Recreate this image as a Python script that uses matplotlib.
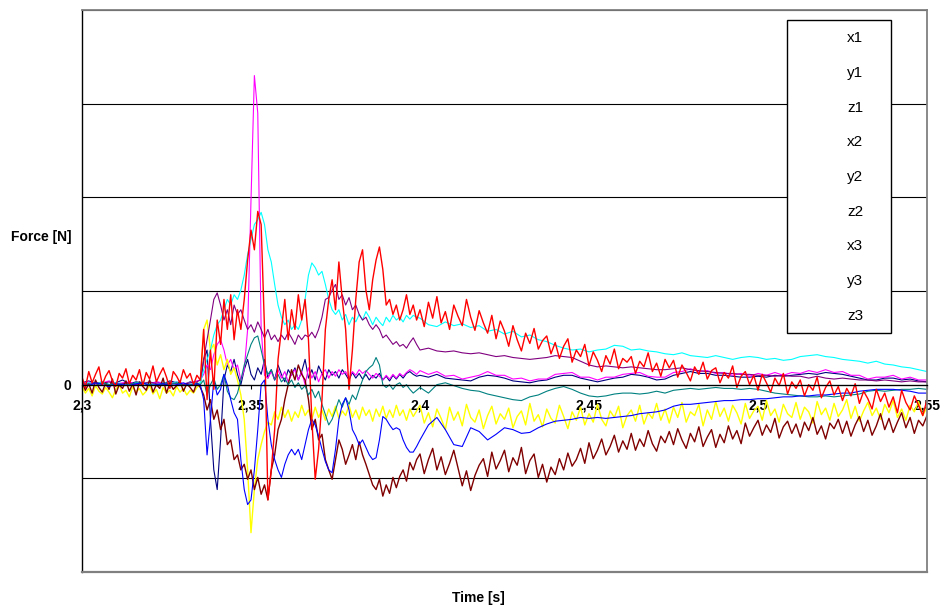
import numpy as np
import matplotlib
matplotlib.use("Agg")
import matplotlib.pyplot as plt
from matplotlib.patches import Rectangle

plt.rcParams['font.family'] = ['Liberation Sans', 'DejaVu Sans']

# time bases: smooth channels are sampled coarser outside the impact,
# the noisy channels (z1, z2, z3) are kept at a fine step everywhere
t_smooth = np.concatenate([2.300 + np.arange(18) * 0.002,
                           2.335 + np.arange(65) * 0.001,
                           2.400 + np.arange(61) * 0.0025])
t_noisy = np.concatenate([2.300 + np.arange(100) * 0.001,
                          2.400 + np.arange(121) * 0.00125])

series_names = ['x1', 'y1', 'z1', 'x2', 'y2', 'z2', 'x3', 'y3', 'z3']
series_colors = ['#000080', '#FF00FF', '#FFFF00', '#00FFFF', '#800080',
                 '#800000', '#008080', '#0000FF', '#FF0000']

x1 = [2, 4, 1, 3, 0, 2, 5, 1, 3, 2, 0, 3, 1, 4, 2, 0, 3, 1,
      0, 27, 37, -37, -91, -112, -59, 5, 21, 14, 27, 11, 0, 16, 27, 11, 5, 18, 11, 27,
      7, 16, 5, 21, 11, 3, 16, 10, 18, 5, 14, 27, 7, 16, 5, 20, 12, 5, 16, 10,
      14, 7, 16, 11, 5, 13, 7, 12, 6, 11, 5, 10, 7, 12, 5, 9, 4, 10, 6, 11,
      7, 12, 14, 11, 9,
      10, 8, 11, 7, 6, 5, 4, 8, 10, 9, 7, 4, 3, 2, 4, 5, 8, 10, 10, 7,
      5, 3, 5, 7, 8, 11, 10, 8, 5, 6, 10, 12, 14, 12, 12, 10, 10, 9, 8, 8,
      9, 8, 10, 9, 10, 11, 12, 11, 13, 12, 11, 9, 7, 5, 5, 7, 7, 5, 6, 4, 3]

y1 = [1, 3, 0, 2, 4, 1, 2, 3, 0, 2, 1, 3, 2, 0, 3, 1, 2, 4,
      5, 11, 21, 16, 32, 43, 48, 37, 21, 27, 16, 21, 5, 16, 59, 197, 330, 290, 60, 10,
      7, 14, 5, 16, 7, 14, 3, 11, 16, 5, 14, 0, 18, 7, 14, 3, 12, 16, 7, 14,
      9, 16, 11, 14, 7, 14, 10, 16, 12, 15, 11, 7, 12, 9, 5, 10, 6, 11, 7, 12,
      9, 13, 16, 14, 11,
      15, 11, 14, 9, 10, 6, 8, 10, 14, 10, 10, 6, 7, 4, 6, 6, 11, 12, 13, 8,
      8, 5, 8, 8, 11, 12, 13, 9, 8, 8, 13, 14, 17, 14, 15, 12, 13, 10, 12, 9,
      12, 10, 13, 10, 13, 12, 15, 13, 16, 13, 14, 10, 10, 6, 8, 8, 10, 6, 8, 5, 5]

z1 = [-2, -9, -4, -12, -1, -7, -10, -3, -8, -14, -5, 0, -9, -6, -13, -2, -8, -4,
      -11, -7, -1, -10, -5, -15, -3, -9, -6, -12, -2, -8, -4, -11, -6, -9, -3,
      0, 59, 69, 37, 43, 21, 32, 16, 27, 11, 18, 5, -11, -37, -91, -158, -112, -80, -64, -50,
      -40, -43, -29, -37, -24, -35, -27, -39, -29, -35, -22, -33, -27, -37, -24, -35, -27, -38, -26, -34,
      -23, -36, -28, -33, -22, -35, -27, -37, -24, -33, -27, -39, -26, -34, -23, -36, -27, -35, -22, -33,
      -27, -38, -26, -34, -28,
      -22, -41, -30, -45, -26, -36, -48, -24, -38, -29, -44, -21, -35, -40, -27, -47, -33, -23, -42, -31,
      -37, -25, -46, -34, -28, -43, -20, -39, -32, -45, -26, -36, -41, -22, -34, -47, -29, -38, -24, -43,
      -31, -40, -21, -37, -44, -28, -35, -23, -46, -33, -27, -39, -22, -42, -30, -36, -20, -38, -26, -41,
      -24, -35, -19, -40, -29, -33, -21, -44, -27, -37, -18, -34, -25, -39, -22, -30, -42, -20, -36, -28,
      -23, -38, -17, -33, -26, -40, -21, -31, -35, -19, -37, -24, -29, -41, -18, -32, -25, -38, -20, -34,
      -27, -16, -36, -23, -39, -28, -19, -33, -25, -37, -21, -30, -17, -35, -26, -38, -22, -29, -18, -33,
      -24]

x2 = [0, 2, 1, 3, 0, 2, 1, 0, 2, 3, 1, 0, 2, 1, 3, 0, 2, 1,
      2, 16, 27, 37, 53, 64, 69, 80, 91, 85, 96, 91, 101, 117, 139, 155, 171, 176, 184, 171,
      144, 131, 107, 85, 72, 64, 69, 59, 64, 59, 69, 91, 117, 130, 125, 117, 121, 107, 91, 80,
      75, 80, 69, 75, 64, 72, 67, 75, 69, 78, 72, 64, 72, 67, 63, 72, 67, 74, 69, 72,
      67, 74, 70, 74, 72,
      71, 64, 62, 67, 63, 65, 61, 63, 57, 59, 54, 57, 51, 53, 48, 46, 42, 39, 37, 38,
      35, 37, 38, 42, 41, 37, 38, 36, 35, 33, 32, 34, 31, 30, 29, 31, 29, 27, 29, 30,
      29, 27, 28, 26, 27, 30, 31, 32, 30, 29, 27, 26, 25, 23, 25, 22, 21, 19, 18, 16, 14]

y2 = [1, 0, 2, 1, 3, 0, 1, 2, 0, 1, 3, 1, 0, 2, 1, 0, 2, 3,
      5, 27, 48, 69, 91, 98, 85, 69, 80, 64, 85, 75, 80, 69, 59, 64, 56, 67, 59, 50,
      59, 48, 53, 46, 53, 48, 56, 50, 43, 53, 48, 53, 51, 56, 50, 59, 72, 91, 93, 101,
      107, 91, 96, 85, 93, 80, 85, 75, 69, 72, 64, 59, 64, 59, 50, 53, 48, 43, 46, 41,
      43, 39, 45, 50, 43,
      37, 39, 36, 35, 36, 34, 33, 34, 32, 30, 31, 29, 28, 27, 28, 29, 31, 30, 29, 25,
      21, 19, 20, 19, 18, 19, 18, 17, 16, 16, 17, 18, 16, 15, 14, 13, 12, 12, 11, 11,
      10, 10, 9, 10, 9, 9, 7, 9, 7, 6, 7, 6, 5, 5, 4, 5, 4, 3, 4, 3, 3]

z2 = [3, -6, 1, -9, 5, -3, -8, 2, -5, 6, -10, 0, -4, 4, -7, 1, -11, 3,
      -2, -6, 5, -8, 0, -4, 7, -9, 2, -5, -1, 4, -7, 1, -3, -8, 2,
      -3, -11, -27, -16, -37, -27, -48, -37, -64, -59, -80, -75, -91, -85, -101, -91, -112, -99, -117, -107,
      -123, -91, -75, -48, -37, -16, 0, 16, 5, 21, 11, 5, -16, -48, -37, -59, -53, -80, -91, -101,
      -80, -59, -69, -85, -75, -64, -80, -61, -75, -85, -96, -107, -112, -101, -119, -107, -116, -99, -110, -98,
      -91, -103, -83, -91, -80,
      -74, -95, -80, -68, -91, -77, -96, -84, -70, -89, -108, -92, -113, -97, -86, -79, -98, -72, -90, -81,
      -70, -93, -78, -86, -67, -95, -81, -74, -99, -85, -104, -88, -96, -79, -91, -73, -87, -80, -68, -84,
      -62, -79, -70, -58, -75, -66, -54, -72, -60, -69, -52, -70, -58, -66, -49, -63, -71, -55, -62, -50,
      -64, -47, -59, -68, -52, -61, -45, -66, -56, -48, -67, -53, -62, -44, -58, -49, -63, -41, -55, -46,
      -38, -54, -43, -51, -36, -57, -45, -39, -52, -42, -56, -40, -49, -35, -53, -44, -58, -41, -47, -37,
      -52, -39, -55, -43, -34, -50, -38, -54, -44, -31, -48, -36, -51, -40, -30, -46, -35, -52, -38, -44,
      -33]

x3 = [0, 1, -1, 2, 0, 1, -1, 0, 2, 1, 0, -1, 1, 0, 2, -1, 0, 1,
      0, 5, -11, 0, 7, -5, 0, 11, -7, -14, -16, -9, 5, 21, 32, 43, 50, 52, 37, 21,
      11, 16, 5, 11, 3, 7, 0, 5, -3, 2, -5, -1, -11, -5, -14, -7, -21, -32, -43, -37,
      -27, -16, -24, -14, -21, -11, -16, -5, 5, 14, 18, 21, 29, 21, 0, -3, 0, -5, 0, 2,
      -3, 0, -5, -9, -6,
      -3, -9, 0, 2, -1, -4, -6, -7, -10, -12, -14, -16, -17, -13, -11, -7, -4, -2, -5, -9,
      -12, -13, -12, -10, -9, -9, -10, -9, -7, -9, -6, -5, -4, -5, -4, -3, -4, -4, -5, -4,
      -5, -7, -9, -10, -11, -12, -13, -13, -12, -13, -12, -11, -10, -7, -6, -7, -6, -5, -5, -4, -5]

y3 = [1, -1, 2, 0, -2, 1, 0, -1, 1, 2, -1, 0, 1, -1, 0, 2, -1, 1,
      0, -16, -75, -37, 5, -11, -5, 11, 0, -16, -30, -37, -80, -112, -128, -123, -91, -48, 0, 5,
      -37, -64, -80, -91, -99, -85, -75, -69, -75, -69, -80, -64, -48, -37, -43, -55, -69, -82, -91, -94,
      -69, -37, -21, -14, -27, -48, -55, -64, -59, -67, -75, -80, -78, -59, -34, -37, -43, -48, -46, -48,
      -59, -67, -72, -72, -66,
      -59, -43, -35, -48, -64, -66, -46, -50, -59, -53, -46, -48, -52, -51, -46, -42, -39, -38, -37, -35,
      -36, -35, -36, -35, -34, -33, -31, -30, -29, -27, -23, -21, -21, -20, -19, -18, -17, -17, -16, -16,
      -15, -15, -14, -13, -13, -12, -12, -11, -11, -10, -9, -9, -7, -6, -5, -5, -5, -6, -7, -9, -9]

z3 = [8, -3, 14, 2, 11, 19, 0, 9, 15, 4, -2, 12, 7, 17, 1, 10, 5, 16,
      -1, 13, 6, 20, 3, 11, 18, 8, -4, 14, 9, 2, 16, 7, 12, 0, 10,
      5, 59, -16, 37, -5, 69, 43, 91, 59, 96, 48, 80, 59, 91, 133, 165, 144, 185, 171, 59,
      -123, -91, -48, 27, 59, 91, 48, 80, 59, 96, 69, 91, 48, -37, -101, -69, -16, 59, 91, 112,
      80, 131, 91, 59, -5, 37, 91, 131, 144, 101, 80, 112, 133, 147, 123, 85, 91, 75, 85, 69,
      80, 96, 75, 85, 69,
      80, 62, 88, 71, 94, 66, 78, 59, 85, 73, 63, 91, 72, 58, 79, 66, 55, 74, 49, 68,
      57, 41, 63, 48, 36, 55, 44, 60, 38, 47, 52, 33, 45, 28, 41, 49, 24, 37, 30, 43,
      20, 35, 26, 14, 31, 22, 38, 17, 28, 24, 30, 12, 25, 19, 34, 14, 23, 9, 27, 18,
      26, 8, 21, 13, 4, 19, 11, 24, 6, 15, 18, 2, 13, 7, 20, -3, 9, 14, 0, 10,
      -6, 11, 2, -8, 7, -1, 12, -10, 3, -4, 5, -12, 0, -6, 8, -14, -3, 4, -11, -2,
      -17, -4, -12, 1, -20, -7, -15, -26, -5, -18, -9, -24, -13, -30, -6, -19, -27, -12, -22, -33,
      -16]

x_ticks = [2.3, 2.35, 2.4, 2.45, 2.5, 2.55]
x_tick_labels = ['2,3', '2,35', '2,4', '2,45', '2,5', '2,55']
y_ticks = [-200, -100, 0, 100, 200, 300, 400]
y_tick_labels = ['', '', '0', '', '', '', '']

W, H = 944, 609
fig = plt.figure(figsize=(W / 100, H / 100), dpi=100)
ax = fig.add_axes([82 / W, 1 - 572 / H, (927 - 82) / W, (572 - 10) / H])

all_values = [x1, y1, z1, x2, y2, z2, x3, y3, z3]
for name, color, values in zip(series_names, series_colors, all_values):
    noisy = len(values) == len(t_noisy)
    tt = t_noisy if noisy else t_smooth
    ax.plot(tt, values, color=color, lw=1.0 if noisy else 0.8, label=name)

# spine moved first: set_position resets the tick labels
ax.spines['bottom'].set_position(('data', 0))
ax.spines['bottom'].set_color('black')
ax.spines['bottom'].set_linewidth(0.9)
ax.spines['left'].set_color('black')
ax.spines['left'].set_linewidth(1.0)
for side in ['top', 'right']:
    ax.spines[side].set_color('#808080')
    ax.spines[side].set_linewidth(1.3)
ax.axhline(-200, color='#808080', lw=1.6, clip_on=False, zorder=3)

ax.set_xlim(2.3, 2.55)
ax.set_ylim(-200, 400)
ax.set_yticks(y_ticks)
ax.set_yticklabels(y_tick_labels, fontweight='bold', fontsize=10)
ax.tick_params(axis='y', length=0, pad=8)
ax.yaxis.grid(True, color='black', lw=0.8)
ax.set_axisbelow(True)

ax.set_xticks(x_ticks)
ax.set_xticklabels(x_tick_labels, fontweight='bold', fontsize=10)
ax.tick_params(axis='x', direction='out', length=3, width=0.8, pad=7)

fig.text(41 / W, 1 - 237 / H, 'Force [N]', ha='center', va='center',
         fontweight='bold', fontsize=10)
fig.text(478 / W, 1 - 598 / H, 'Time [s]', ha='center', va='center',
         fontweight='bold', fontsize=10)

# legend box with labels only, like the original
fig.add_artist(Rectangle((787 / W, 1 - 333 / H), 104 / W, 313 / H,
                         transform=fig.transFigure, facecolor='white',
                         edgecolor='black', lw=1, zorder=5))
for i, name in enumerate(series_names):
    fig.text(855 / W, 1 - (38 + i * 34.75) / H, name, ha='center', va='center',
             fontsize=11, zorder=6)

fig.savefig('out.png', dpi=100)
